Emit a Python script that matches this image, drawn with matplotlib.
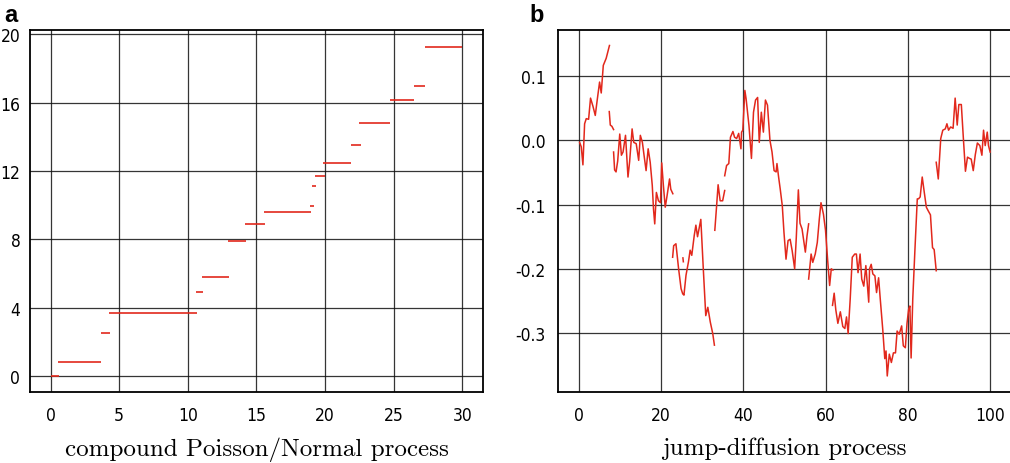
import numpy as np
import matplotlib
matplotlib.use("Agg")
import matplotlib.pyplot as plt

plt.rcParams['axes.unicode_minus'] = False

# panel a: compound Poisson/Normal process (piecewise constant pieces)
cp_starts = [0, 0.55, 3.65, 4.25, 10.6, 11.05, 12.95, 14.15, 15.55, 18.9,
             19.07, 19.25, 19.85, 21.85, 22.5, 24.7, 26.45, 27.25]
cp_ends = [0.6, 3.7, 4.3, 10.65, 11.1, 13.0, 14.2, 15.6, 19.0, 19.2,
           19.36, 20.0, 21.9, 22.6, 24.75, 26.5, 27.3, 30.0]
cp_levels = [0, 0.82, 2.53, 3.68, 4.9, 5.8, 7.88, 8.9, 9.62, 9.96,
             11.09, 11.68, 12.47, 13.53, 14.81, 16.16, 16.98, 19.26]
a_xticks = [0, 5, 10, 15, 20, 25, 30]
a_yticks = [0, 4, 8, 12, 16, 20]

# panel b: jump-diffusion process, one list per continuous piece
jd_times = [
    [0.25, 0.65, 1.05, 1.46, 1.86, 2.43, 2.9, 3.5, 4.05, 4.5, 5.1, 5.5, 6.0, 6.7, 7.5],
    [7.45, 7.7, 8.1, 8.5],
    [8.5, 8.75, 9.1, 9.5, 10.0, 10.4, 10.8, 11.4, 12.0, 12.4, 13.0, 13.4, 14.0, 14.6,
     15.0, 15.5, 15.9, 16.4, 16.9, 17.4, 17.9, 18.2, 18.5, 18.9, 19.4, 19.9, 20.2,
     20.6, 21.05, 21.5, 22.1, 22.4, 22.9],
    [22.85, 23.1, 23.65, 24.3, 24.9, 25.3, 25.6, 26.1, 26.7, 27.1, 27.5, 28.1, 28.5,
     28.9, 29.7, 30.3, 30.9, 31.4, 32.0, 32.6, 33.0],
    [25.35, 25.45],
    [33.1, 33.5, 33.9, 34.4, 35.0, 35.5],
    [35.5, 35.96, 36.5, 36.9, 37.5, 37.9, 38.4, 38.9, 39.45, 39.6, 39.9, 40.4, 40.7,
     41.4, 42.0, 42.5, 43.0, 43.5, 43.9, 44.4, 44.9, 45.4, 45.9, 46.5, 47.0, 47.5,
     48.0, 48.2, 48.6, 49.0, 49.5, 49.9, 50.4, 50.9, 51.4, 51.9, 52.5, 52.9, 53.4,
     53.8, 54.3, 55.1, 55.5, 55.9],
    [55.9, 56.5, 56.9, 57.5, 58.0, 58.5, 58.9, 59.5, 60.0, 60.5, 61.0, 61.4, 61.8],
    [61.7, 62.1, 62.5, 63.0, 63.6, 64.2, 64.7, 65.1, 65.5, 66.0, 66.5, 67.1, 67.5,
     67.9, 68.4, 68.8, 69.3, 69.8, 70.5, 70.7, 71.1, 71.5, 72.0, 72.4, 72.9, 73.3,
     73.9, 74.4, 74.7, 75.0, 75.5, 76.0, 76.5, 77.0, 77.4, 77.9, 78.5, 78.9, 79.4,
     79.8, 80.2, 80.5, 80.8, 81.2, 81.7, 82.3, 82.6, 83.0, 83.5, 84.0, 84.5, 84.9,
     85.5, 86.0, 86.4, 86.9],
    [86.9, 87.4, 88.0, 88.5, 89.1, 89.5, 89.9, 90.4, 91.0, 91.5, 92.0, 92.4, 93.0,
     93.5, 94.0, 94.5, 95.0, 95.4, 95.9, 96.4, 96.9, 97.5, 98.0, 98.4, 98.8, 99.3,
     99.6, 100.0],
]
jd_values = [
    [-0.003, -0.010, -0.038, 0.026, 0.034, 0.033, 0.066, 0.053, 0.039, 0.062, 0.091,
     0.074, 0.117, 0.128, 0.148],
    [0.045, 0.024, 0.022, 0.017],
    [-0.018, -0.046, -0.049, -0.032, 0.010, -0.023, -0.018, 0.008, -0.057, -0.033,
     0.018, -0.003, -0.005, -0.031, 0.008, -0.003, -0.023, -0.047, -0.013, -0.034,
     -0.070, -0.107, -0.130, -0.081, -0.094, -0.097, -0.035, -0.070, -0.104, -0.086,
     -0.060, -0.076, -0.083],
    [-0.182, -0.164, -0.161, -0.200, -0.231, -0.239, -0.241, -0.210, -0.189, -0.171,
     -0.179, -0.148, -0.132, -0.150, -0.123, -0.200, -0.273, -0.260, -0.283, -0.301,
     -0.319],
    [-0.183, -0.189],
    [-0.140, -0.105, -0.069, -0.094, -0.094, -0.078],
    [-0.055, -0.039, -0.036, 0.005, 0.014, 0.005, 0.003, 0.011, -0.013, 0.013,
     0.016, 0.078, 0.065, 0.023, -0.028, 0.044, 0.063, 0.067, -0.003, 0.044,
     0.013, 0.063, 0.055, 0.000, -0.018, -0.047, -0.049, -0.036, -0.057, -0.076,
     -0.102, -0.143, -0.185, -0.156, -0.154, -0.172, -0.200, -0.151, -0.077, -0.129,
     -0.138, -0.174, -0.149, -0.130],
    [-0.216, -0.177, -0.190, -0.177, -0.159, -0.122, -0.097, -0.115, -0.140, -0.185,
     -0.226, -0.200, -0.202],
    [-0.257, -0.238, -0.264, -0.285, -0.267, -0.290, -0.293, -0.275, -0.301, -0.247,
     -0.182, -0.177, -0.177, -0.206, -0.177, -0.216, -0.227, -0.195, -0.252, -0.200,
     -0.193, -0.208, -0.211, -0.237, -0.214, -0.247, -0.294, -0.340, -0.328, -0.367,
     -0.333, -0.346, -0.331, -0.331, -0.297, -0.302, -0.289, -0.320, -0.323, -0.285,
     -0.263, -0.258, -0.339, -0.247, -0.174, -0.091, -0.091, -0.088, -0.057, -0.081,
     -0.104, -0.109, -0.116, -0.167, -0.170, -0.203],
    [-0.034, -0.060, 0.003, 0.016, 0.018, 0.026, 0.016, 0.021, 0.019, 0.066,
     0.024, 0.056, 0.056, 0.003, -0.048, -0.026, -0.028, -0.029, -0.047, -0.022,
     -0.004, -0.008, -0.023, 0.016, -0.008, 0.013, -0.008, -0.018],
]
b_xticks = [0, 20, 40, 60, 80, 100]
b_yticks = [0.1, 0.0, -0.1, -0.2, -0.3]
b_ylabels = ['0.1', '0.0', '-0.1', '-0.2', '-0.3']

red = '#e2281c'

fig = plt.figure(figsize=(10.10, 4.64), dpi=100)
ax1 = fig.add_axes([0.0297, 0.153, 0.4485, 0.780])
ax2 = fig.add_axes([0.5525, 0.153, 0.4482, 0.780])

# a
ax1.hlines(cp_levels, cp_starts, cp_ends, color=red, lw=1.4, alpha=0.85, zorder=3)
ax1.set_xlim(-1.5, 31.5)
ax1.set_ylim(-0.95, 20.25)
ax1.set_xticks(a_xticks)
ax1.set_yticks(a_yticks)

# b
for t, v in zip(jd_times, jd_values):
    ax2.plot(t, v, color=red, lw=1.1, zorder=3)
ax2.set_xlim(-5, 105)
ax2.set_ylim(-0.392, 0.172)
ax2.set_xticks(b_xticks)
ax2.set_yticks(b_yticks)
ax2.set_yticklabels(b_ylabels)

for ax in (ax1, ax2):
    ax.grid(True, color='#111111', lw=0.9, alpha=0.85, zorder=1)
    ax.set_axisbelow(True)
    for s in ax.spines.values():
        s.set_linewidth(1.3)
    ax.tick_params(length=0, labelsize=12.5)
    for lab in ax.get_xticklabels() + ax.get_yticklabels():
        lab.set_fontfamily('DejaVu Sans')
        lab.set_fontstretch('condensed')
ax1.tick_params(axis='x', pad=10)
ax1.tick_params(axis='y', pad=7)
ax2.tick_params(axis='x', pad=10)
ax2.tick_params(axis='y', pad=9)

ax1.set_xlabel('compound Poisson/Normal process', fontfamily='cmr10', fontsize=18,
               labelpad=9)
ax2.set_xlabel('jump-diffusion process', fontfamily='cmr10', fontsize=18,
               labelpad=9)

fig.text(0.004, 0.953, 'a', fontsize=17, fontweight='bold', fontfamily='Liberation Sans')
fig.text(0.524, 0.953, 'b', fontsize=17, fontweight='bold', fontfamily='Liberation Sans')

fig.savefig('out.png', dpi=100)
